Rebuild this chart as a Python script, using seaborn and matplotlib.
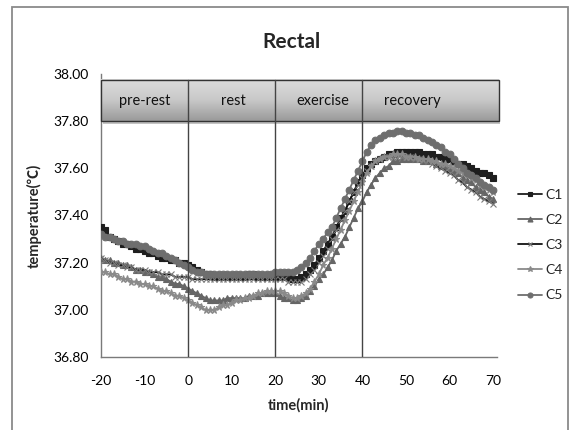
import numpy as np
import pandas as pd
import matplotlib
matplotlib.use("Agg")
import matplotlib.pyplot as plt
import seaborn as sns
from matplotlib.patches import Rectangle

sns.set_style("white")
plt.rcParams['font.family'] = ['Lato', 'Noto Sans CJK KR', 'DejaVu Sans']

# ---------------- data ----------------
time_min = list(range(-20, 71))

C1 = [37.35, 37.34, 37.31, 37.30, 37.29, 37.28, 37.28, 37.27, 37.26, 37.26,
      37.25, 37.24, 37.24, 37.23, 37.22, 37.22, 37.21, 37.21, 37.20, 37.20,
      37.19, 37.18, 37.17, 37.16, 37.15, 37.15, 37.14, 37.14, 37.14, 37.14,
      37.14, 37.14, 37.14, 37.14, 37.15, 37.15, 37.14, 37.14, 37.14, 37.14,
      37.14, 37.14, 37.14, 37.14, 37.13, 37.13, 37.14, 37.15, 37.17, 37.19,
      37.22, 37.25, 37.28, 37.31, 37.35, 37.39, 37.42, 37.46, 37.50, 37.54,
      37.57, 37.60, 37.62, 37.63, 37.64, 37.65, 37.66, 37.66, 37.67, 37.67,
      37.67, 37.67, 37.67, 37.67, 37.66, 37.66, 37.66, 37.65, 37.65, 37.64,
      37.64, 37.63, 37.62, 37.62, 37.61, 37.60, 37.59, 37.58, 37.58, 37.57, 37.56]

C2 = [37.22, 37.21, 37.21, 37.20, 37.20, 37.19, 37.19, 37.18, 37.17, 37.17,
      37.16, 37.16, 37.15, 37.14, 37.14, 37.13, 37.12, 37.11, 37.11, 37.10,
      37.09, 37.08, 37.07, 37.06, 37.05, 37.04, 37.04, 37.04, 37.04, 37.05,
      37.05, 37.05, 37.05, 37.05, 37.06, 37.06, 37.06, 37.07, 37.07, 37.07,
      37.07, 37.06, 37.05, 37.05, 37.04, 37.04, 37.05, 37.06, 37.08, 37.10,
      37.13, 37.15, 37.18, 37.21, 37.25, 37.28, 37.31, 37.35, 37.39, 37.43,
      37.46, 37.50, 37.53, 37.56, 37.58, 37.60, 37.61, 37.63, 37.63, 37.64,
      37.64, 37.64, 37.64, 37.64, 37.63, 37.63, 37.63, 37.62, 37.61, 37.61,
      37.60, 37.59, 37.58, 37.56, 37.55, 37.54, 37.52, 37.51, 37.50, 37.48, 37.47]

C3 = [37.22, 37.21, 37.20, 37.20, 37.19, 37.19, 37.18, 37.18, 37.17, 37.17,
      37.17, 37.16, 37.16, 37.16, 37.15, 37.15, 37.15, 37.14, 37.14, 37.14,
      37.14, 37.13, 37.13, 37.13, 37.13, 37.13, 37.13, 37.13, 37.13, 37.13,
      37.13, 37.13, 37.13, 37.13, 37.13, 37.13, 37.13, 37.13, 37.13, 37.13,
      37.13, 37.13, 37.13, 37.12, 37.12, 37.12, 37.12, 37.13, 37.15, 37.17,
      37.20, 37.23, 37.26, 37.30, 37.34, 37.38, 37.42, 37.46, 37.50, 37.53,
      37.56, 37.59, 37.61, 37.63, 37.64, 37.65, 37.65, 37.65, 37.65, 37.65,
      37.65, 37.65, 37.64, 37.64, 37.63, 37.63, 37.62, 37.61, 37.60, 37.59,
      37.58, 37.57, 37.55, 37.54, 37.52, 37.51, 37.50, 37.48, 37.47, 37.46, 37.45]

C4 = [37.16, 37.16, 37.15, 37.15, 37.14, 37.13, 37.13, 37.12, 37.12, 37.11,
      37.11, 37.10, 37.10, 37.09, 37.08, 37.08, 37.07, 37.06, 37.06, 37.05,
      37.04, 37.03, 37.02, 37.01, 37.00, 37.00, 37.00, 37.01, 37.02, 37.02,
      37.03, 37.04, 37.04, 37.05, 37.05, 37.06, 37.07, 37.07, 37.08, 37.08,
      37.08, 37.08, 37.07, 37.06, 37.05, 37.05, 37.06, 37.07, 37.09, 37.12,
      37.15, 37.19, 37.22, 37.26, 37.30, 37.34, 37.38, 37.42, 37.46, 37.50,
      37.54, 37.58, 37.61, 37.63, 37.64, 37.65, 37.65, 37.66, 37.66, 37.66,
      37.65, 37.65, 37.65, 37.64, 37.64, 37.64, 37.63, 37.63, 37.62, 37.62,
      37.61, 37.60, 37.59, 37.58, 37.57, 37.56, 37.55, 37.53, 37.52, 37.51, 37.50]

C5 = [37.32, 37.31, 37.31, 37.30, 37.29, 37.29, 37.28, 37.28, 37.28, 37.27,
      37.27, 37.26, 37.25, 37.24, 37.24, 37.23, 37.22, 37.21, 37.20, 37.19,
      37.18, 37.17, 37.16, 37.16, 37.15, 37.15, 37.15, 37.15, 37.15, 37.15,
      37.15, 37.15, 37.15, 37.15, 37.15, 37.15, 37.15, 37.15, 37.15, 37.15,
      37.16, 37.16, 37.16, 37.16, 37.16, 37.17, 37.18, 37.20, 37.22, 37.25,
      37.28, 37.30, 37.33, 37.35, 37.39, 37.43, 37.47, 37.51, 37.55, 37.59,
      37.63, 37.67, 37.70, 37.72, 37.73, 37.74, 37.75, 37.75, 37.76, 37.76,
      37.75, 37.75, 37.74, 37.74, 37.73, 37.72, 37.71, 37.70, 37.69, 37.67,
      37.66, 37.64, 37.62, 37.60, 37.58, 37.57, 37.56, 37.54, 37.53, 37.52, 37.51]

series_names = ["C1", "C2", "C3", "C4", "C5"]
phase_labels = ["pre-rest", "rest", "exercise", "recovery"]
phase_bounds = [-20, 0, 20, 40, 71.3]
x_ticks = list(range(-20, 71, 10))
y_ticks = [36.80, 37.00, 37.20, 37.40, 37.60, 37.80, 38.00]

# ---------------- figure ----------------
W, H = 572, 430
fig = plt.figure(figsize=(W / 100, H / 100), dpi=100)
fig.patch.set_facecolor("white")

# outer chart frame
fig.add_artist(Rectangle((12 / W, -0.02), (568 - 12) / W, 1 - 7 / H + 0.02,
                         transform=fig.transFigure, fill=False,
                         edgecolor="#8a8a8a", linewidth=1.3))

ax = fig.add_axes([101 / W, 1 - 357 / H, 396 / W, (357 - 74) / H])

styles = {
    "C1": dict(color="#1e1e1e", marker="s", markersize=4.8, mec="#1e1e1e"),
    "C2": dict(color="#666666", marker="^", markersize=4.8, mec="#666666"),
    "C3": dict(color="#111111", marker="x", markersize=4.2, mec="#7a7a7a"),
    "C4": dict(color="#8a8a8a", marker="*", markersize=5.2, mec="#8a8a8a"),
    "C5": dict(color="#6e6e6e", marker="o", markersize=4.8, mec="#6e6e6e"),
}
data_map = {"C1": C1, "C2": C2, "C3": C3, "C4": C4, "C5": C5}

for name in series_names:
    st = styles[name]
    sns.lineplot(x=time_min, y=data_map[name], ax=ax, color=st["color"],
                 marker=st["marker"], markersize=st["markersize"],
                 markeredgecolor=st["mec"], markerfacecolor=st["mec"],
                 markeredgewidth=0.8, linewidth=1.3, label=name, zorder=3)

ax.set_xticks(x_ticks)
ax.set_xticklabels([str(t) for t in x_ticks])
ax.set_yticks(y_ticks)
ax.set_yticklabels([f"{v:.2f}" for v in y_ticks])

for s in ["top", "right"]:
    ax.spines[s].set_visible(False)
for s in ["left", "bottom"]:
    ax.spines[s].set_color("#7a7a7a")
    ax.spines[s].set_linewidth(1.0)
ax.tick_params(axis="both", direction="out", length=5, width=1.0,
               color="#7a7a7a", labelsize=10, colors="#7a7a7a",
               labelcolor="black", pad=4)
ax.tick_params(axis="x", pad=8)

# phase bar with gradient
bar_bottom, bar_top = 37.80, 37.975
grad = np.linspace(0, 1, 100).reshape(-1, 1)
cm = matplotlib.colors.LinearSegmentedColormap.from_list(
    "g", ["#dcdcdc", "#c8c8c8", "#9a9a9a"])
# shadow
ax.add_patch(Rectangle((-19.6, bar_bottom - 0.012), 91.3, bar_top - bar_bottom,
                       facecolor="#b5b5b5", edgecolor="none", zorder=4,
                       clip_on=False, alpha=0.8))
ax.imshow(grad[::-1], extent=(-20, 71.3, bar_bottom, bar_top), aspect="auto",
          cmap=cm, zorder=5, clip_on=False, origin="lower")
ax.add_patch(Rectangle((-20, bar_bottom), 91.3, bar_top - bar_bottom,
                       fill=False, edgecolor="#333333", linewidth=1.0,
                       zorder=6, clip_on=False))
for b in phase_bounds[1:-1]:
    ax.plot([b, b], [36.8, bar_top], color="#444444", linewidth=1.0, zorder=6)
label_pos = [-10, 10.5, 31, 51.5]
for lab, xp in zip(phase_labels, label_pos):
    ax.text(xp, (bar_bottom + bar_top) / 2, lab, ha="center", va="center",
            fontsize=10.5, color="#111111", zorder=7)

ax.set_xlim(-20, 70.9)
ax.set_ylim(36.8, 38.0)

ax.set_xlabel("time(min)", fontsize=10.5, fontweight="bold", labelpad=8)
ax.set_ylabel("temperature(℃)", fontsize=10.5, fontweight="bold", labelpad=8)

fig.text(292 / W, 1 - 42 / H, "Rectal", ha="center", va="center",
         fontsize=15, fontweight="bold")

leg = ax.legend(loc="center left", bbox_to_anchor=(518 / W, 1 - 245 / H),
                bbox_transform=fig.transFigure, frameon=False, fontsize=10,
                handlelength=1.7, handletextpad=0.3, labelspacing=0.95,
                borderaxespad=0, borderpad=0, markerscale=0.75)

fig.savefig("out.png", dpi=100, facecolor="white")
